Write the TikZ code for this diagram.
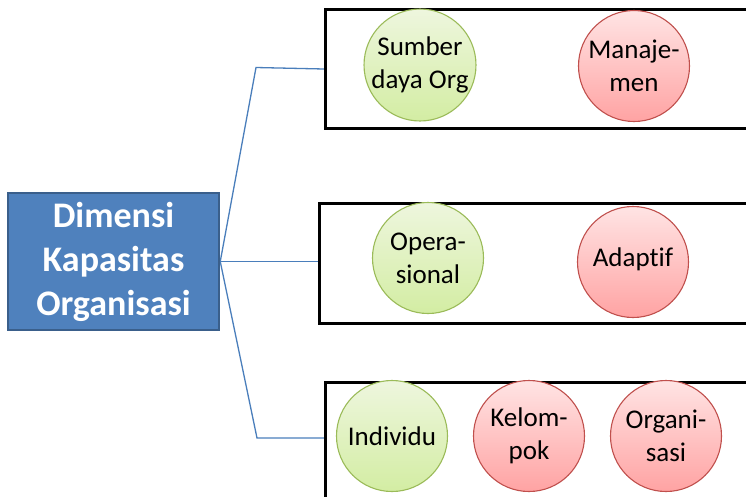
\documentclass[tikz,border=0pt]{standalone}
\usepackage{fontspec}
\setmainfont{Carlito}[Ligatures=NoCommon]
\usetikzlibrary{backgrounds}
\definecolor{hubfill}{HTML}{4F81BD}
\definecolor{hubedge}{HTML}{3A5F8B}
\definecolor{linkblue}{HTML}{4A7EBB}
\definecolor{greenedge}{HTML}{9BBB59}
\definecolor{greentop}{HTML}{EEF6DE}
\definecolor{greenbot}{HTML}{D3EDA3}
\definecolor{rededge}{HTML}{C0504D}
\definecolor{redtop}{HTML}{FFE4E4}
\definecolor{redbot}{HTML}{FFA3A3}
\begin{document}
\begin{tikzpicture}[x=1pt,y=-1pt,
  hub/.style={draw=hubedge, fill=hubfill, line width=2.5pt, text=white,
    font=\fontsize{36}{44}\selectfont\bfseries, align=center,
    minimum width=211pt, minimum height=137pt, inner sep=0pt},
  group/.style={draw=black, line width=3pt, fill=white, inner sep=0pt,
    anchor=north west, minimum width=460pt},
  link/.style={draw=linkblue, line width=1.3pt},
  bubble/.style={circle, minimum size=111pt, inner sep=0pt, align=center,
    font=\fontsize{27}{33}\selectfont, line width=1.1pt},
  good/.style={bubble, draw=greenedge, top color=greentop, bottom color=greenbot},
  weak/.style={bubble, draw=rededge, top color=redtop, bottom color=redbot}]
  \useasboundingbox (0,0) rectangle (746,496);
  \clip (0,0) rectangle (746,496);

  % central dimension box
  \node[hub] (hub) at (113.5,261.5) {Dimensi\\Kapasitas\\Organisasi};

  % three group frames
  \node[group, minimum height=119pt] (g1) at (324,8) {};
  \node[group, minimum height=120pt] (g2) at (318,202) {};
  \node[group, minimum height=160pt] (g3) at (324,381) {};

  % elbows of the branch lines
  \coordinate (k1) at (256,67.5);
  \coordinate (k3) at (257,438);

  % branches, kept beneath the frames
  \begin{scope}[on background layer]
    \draw[link] (hub.east) -- (k1) -- (g1.west);
    \draw[link] (hub.east) -- (hub.east -| g2.west);
    \draw[link] (hub.east) -- (k3) -- (k3 -| g3.west);
  \end{scope}

  % bubbles in the first frame
  \node[good] (sdo) at (420,65) {Sumber\\daya Org};
  \node[weak] (man) at (634,66) {Manaje-\\men};

  % bubbles in the second frame
  \node[good] (ops) at (428,258) {Opera-\\sional};
  \node[weak] (ada) at (633,262) {\raisebox{9pt}{Adaptif}};

  % bubbles in the third frame
  \node[good] (ind) at (392,436) {Individu};
  \node[weak] (kel) at (529,436) {Kelom-\\pok};
  \node[weak] (org) at (666,436) {Organi-\\sasi};
\end{tikzpicture}
\end{document}
